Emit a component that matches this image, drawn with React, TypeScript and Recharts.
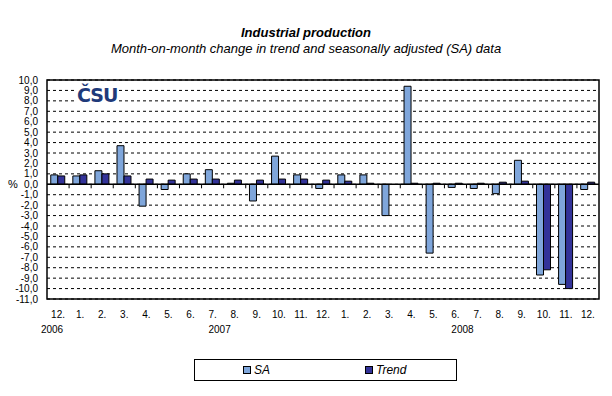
import React from 'react';
import {
  BarChart,
  Bar,
  XAxis,
  YAxis,
  CartesianGrid,
  ReferenceLine,
  ReferenceArea,
  Legend
} from 'recharts';

// months from 12/2006 to 12/2008
const months = [
  '12.', '1.', '2.', '3.', '4.', '5.', '6.', '7.', '8.', '9.', '10.', '11.', '12.',
  '1.', '2.', '3.', '4.', '5.', '6.', '7.', '8.', '9.', '10.', '11.', '12.'
];
const saValues = [
  0.9, 0.8, 1.3, 3.7, -2.1, -0.5, 1.0, 1.4, 0.1, -1.6, 2.7, 0.9, -0.4,
  0.9, 0.9, -3.0, 9.4, -6.6, -0.3, -0.4, -0.9, 2.3, -8.7, -9.6, -0.5
];
const trendValues = [
  0.8, 0.9, 1.0, 0.8, 0.5, 0.4, 0.5, 0.5, 0.4, 0.4, 0.5, 0.5, 0.4,
  0.3, 0.1, 0.0, 0.1, 0.1, 0.1, 0.1, 0.2, 0.3, -8.2, -10.0, 0.2
];
const yearLabels = ['2006', '2007', '2008'];
const yearAtIndex = [0, 7, 18];
const yTicks = [-11, -10, -9, -8, -7, -6, -5, -4, -3, -2, -1, 0, 1, 2, 3, 4, 5, 6, 7, 8, 9, 10];

const SA_COLOR = '#7FA6DB';
const TREND_COLOR = '#333399';
const FONT = '"Liberation Sans", Arial, sans-serif';

const data = months.map((m, i) => ({ month: m, sa: saValues[i], trend: trendValues[i] }));

const fmt = (v: number) => v.toFixed(1).replace('.', ',');

const MonthTick = (props: any) => {
  const { x, y, payload } = props;
  const yi = yearAtIndex.indexOf(payload.index);
  const yearDx = payload.index === 0 ? -6 : 7;
  return (
    <g>
      <text x={x} y={y + 19} textAnchor="middle" fontSize={10} fontFamily={FONT} fill="#000">
        {payload.value}
      </text>
      {yi >= 0 && (
        <text x={x + yearDx} y={y + 34} textAnchor="middle" fontSize={10} fontFamily={FONT} fill="#000">
          {yearLabels[yi]}
        </text>
      )}
    </g>
  );
};

// zero line with small tick marks between categories
const ZeroLine = (props: any) => {
  const { x1, y1, x2, y2 } = props;
  if (x1 == null) return null;
  const step = (x2 - x1) / months.length;
  const marks = [];
  for (let i = 1; i < months.length; i++) {
    const x = x1 + step * i;
    marks.push(<line key={i} x1={x} x2={x} y1={y1} y2={y1 + 4} stroke="#000" strokeWidth={1} />);
  }
  return (
    <g>
      <line x1={x1} y1={y1} x2={x2} y2={y2} stroke="#000" strokeWidth={1.5} />
      {marks}
    </g>
  );
};

const LegendBox = () => (
  <div
    style={{
      position: 'relative',
      width: 263,
      height: 22,
      border: '1px solid #000',
      boxSizing: 'border-box',
      fontFamily: FONT,
      fontSize: 12,
      fontStyle: 'italic'
    }}
  >
    <span style={{ position: 'absolute', left: 48, top: 6, width: 6, height: 6, background: SA_COLOR, border: '1px solid #000' }} />
    <span style={{ position: 'absolute', left: 59, top: 3, lineHeight: '14px' }}>SA</span>
    <span style={{ position: 'absolute', left: 170, top: 6, width: 6, height: 6, background: TREND_COLOR, border: '1px solid #000' }} />
    <span style={{ position: 'absolute', left: 181, top: 3, lineHeight: '14px' }}>Trend</span>
  </div>
);

export default function App() {
  return (
    <div style={{ position: 'absolute', left: 0, top: 0, width: 612, height: 396, background: '#fff' }}>
      <div
        style={{
          position: 'absolute', left: 0, top: 25, width: 612, textAlign: 'center',
          fontFamily: FONT, fontSize: 13, lineHeight: '15px', color: '#000'
        }}
      >
        <div style={{ fontWeight: 'bold', fontStyle: 'italic' }}>Industrial production</div>
        <div style={{ fontStyle: 'italic', marginTop: 1 }}>
          Month-on-month change in trend and seasonally adjusted (SA) data
        </div>
      </div>
      <BarChart
        width={612}
        height={396}
        data={data}
        margin={{ top: 80, right: 13, left: 0, bottom: 67 }}
        barCategoryGap="17%"
        barGap={0}
      >
        <CartesianGrid horizontal vertical={false} stroke="#000" strokeDasharray="3 3" />
        <XAxis
          dataKey="month"
          height={30}
          axisLine={false}
          tickLine={false}
          tickSize={0}
          tickMargin={0}
          interval={0}
          tick={<MonthTick />}
        />
        <YAxis
          width={47}
          domain={[-11, 10]}
          ticks={yTicks}
          interval={0}
          axisLine={false}
          tickLine={false}
          tickSize={4}
          tickMargin={5}
          tickFormatter={fmt}
          tick={{ fontSize: 10, fontFamily: FONT, fill: '#000' }}
          label={{ value: '%', position: 'insideLeft', offset: 8, dy: -5, fontSize: 11, fontFamily: FONT, fill: '#000' }}
        />
        <ReferenceArea y1={-11} y2={10} fill="none" stroke="#000" strokeWidth={1.5} fillOpacity={0} />
        <Bar dataKey="sa" name="SA" fill={SA_COLOR} stroke="#000" strokeWidth={1} isAnimationActive={false} />
        <Bar dataKey="trend" name="Trend" fill={TREND_COLOR} stroke="#000" strokeWidth={1} isAnimationActive={false} />
        <ReferenceLine y={0} shape={<ZeroLine />} />
        <Legend
          layout="horizontal"
          verticalAlign="middle"
          align="center"
          content={<LegendBox />}
          wrapperStyle={{ left: 194, top: 359, width: 263, height: 22 }}
        />
      </BarChart>
      <div
        style={{
          position: 'absolute', left: 75, top: 86, padding: '0 2px', background: '#fff',
          fontFamily: '"DejaVu Sans", sans-serif', fontWeight: 900, fontSize: 19, lineHeight: '19px',
          color: '#1F3A7A', letterSpacing: -1
        }}
      >
        ČSU
      </div>
    </div>
  );
}
